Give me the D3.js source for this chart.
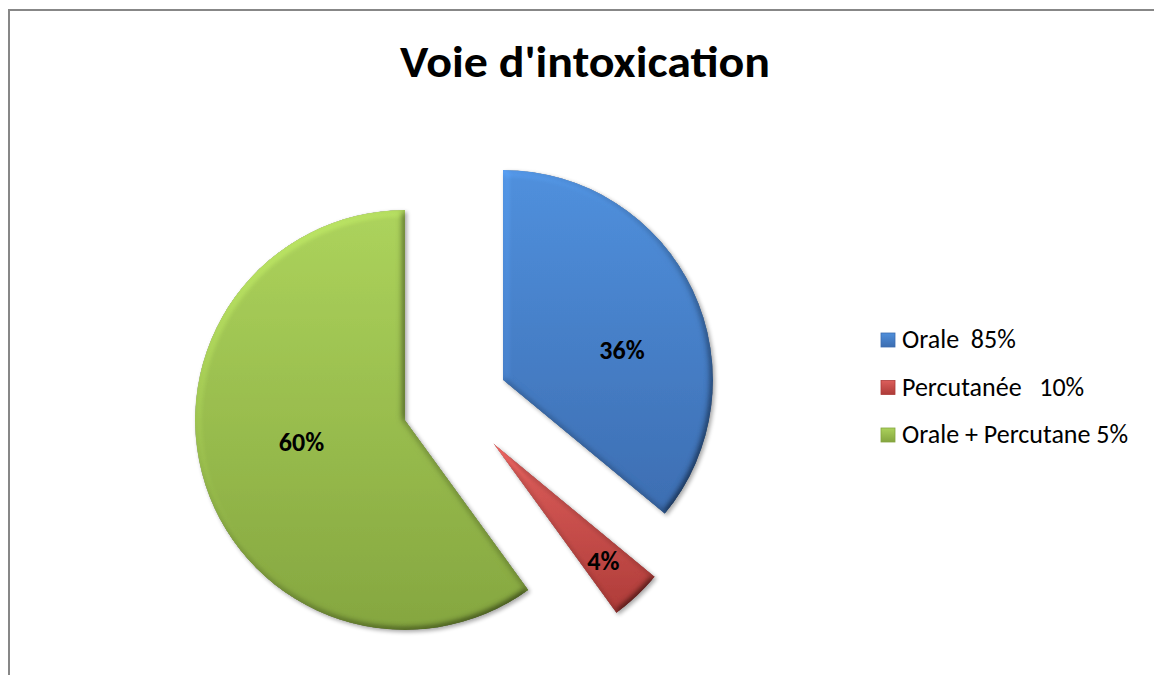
<!DOCTYPE html>
<html>
<head>
<meta charset="utf-8">
<script src="https://cdn.jsdelivr.net/npm/d3@7"></script>
<style>
  html, body { margin: 0; padding: 0; background: #fff; }
  svg { display: block; }
  text { font-family: Carlito, Calibri, Lato, "Liberation Sans", sans-serif; }
</style>
</head>
<body>
<svg id="chart" width="1154" height="675"></svg>
<script>
// Route of intoxication: share of cases per route
const categories = ["Orale  85%", "Percutanée   10%", "Orale + Percutane 5%"];
const shares = [36, 4, 60];
const title = "Voie d'intoxication";

// Slice colours (light top, dark bottom)
const colorsLight = ["#4f8fdb", "#dc5e5b", "#abd15b"];
const colorsDark  = ["#3c6db0", "#ad3b38", "#84a53f"];

// Layout
const W = 1154, H = 675;
const pieCenter = [430, 420];
const radius = 210;
// each slice is pulled away from the pie centre by its own offset
const sliceOffset = [[73, -40], [63, 23], [-25, 0]];
// value label placement: fraction of the radius, angle shift (deg) from the slice middle
const labelPlacement = [[0.584, 11.2], [0.768, 0], [0.504, 6]];

const svg = d3.select("#chart");
const defs = svg.append("defs");

// bevel + soft shadow used on every slice
const f = defs.append("filter").attr("id", "bevel")
  .attr("x", "-10%").attr("y", "-10%").attr("width", "120%").attr("height", "120%");
f.append("feGaussianBlur").attr("in", "SourceAlpha").attr("stdDeviation", 3.5).attr("result", "blur");
f.append("feDiffuseLighting").attr("in", "blur").attr("surfaceScale", 4)
  .attr("diffuseConstant", 0.62).attr("lighting-color", "#fff").attr("result", "diff")
  .append("feDistantLight").attr("azimuth", 225).attr("elevation", 55);
f.append("feComposite").attr("in", "SourceGraphic").attr("in2", "diff")
  .attr("operator", "arithmetic").attr("k1", 2).attr("k2", 0).attr("k3", 0).attr("k4", 0).attr("result", "lit");
f.append("feComposite").attr("in", "lit").attr("in2", "SourceAlpha").attr("operator", "in").attr("result", "litClip");
f.append("feGaussianBlur").attr("in", "SourceAlpha").attr("stdDeviation", 2).attr("result", "sblur");
f.append("feOffset").attr("in", "sblur").attr("dx", 1.5).attr("dy", 2).attr("result", "soff");
f.append("feComponentTransfer").attr("in", "soff").attr("result", "shadow")
  .append("feFuncA").attr("type", "linear").attr("slope", 0.35);
const m = f.append("feMerge");
m.append("feMergeNode").attr("in", "shadow");
m.append("feMergeNode").attr("in", "litClip");

shares.forEach((_, i) => {
  const g = defs.append("linearGradient").attr("id", "grad" + i)
    .attr("x1", 0).attr("y1", 0).attr("x2", 0).attr("y2", 1);
  g.append("stop").attr("offset", "0%").attr("stop-color", colorsLight[i]);
  g.append("stop").attr("offset", "100%").attr("stop-color", colorsDark[i]);
});

// chart frame
svg.append("rect")
  .attr("x", 9).attr("y", 10).attr("width", W + 20).attr("height", H + 20)
  .attr("fill", "none").attr("stroke", "#878787").attr("stroke-width", 2);

// title
svg.append("text")
  .attr("x", 585).attr("y", 77)
  .attr("text-anchor", "middle")
  .attr("font-size", 44).attr("font-weight", "bold").attr("fill", "#000")
  .attr("textLength", 370).attr("lengthAdjust", "spacingAndGlyphs")
  .text(title);

// pie
const pie = d3.pie().sort(null).value(d => d);
const arcs = pie(shares);
const arc = d3.arc().innerRadius(0).outerRadius(radius);

const slices = svg.append("g").attr("class", "slices");
arcs.forEach((a, i) => {
  const cx = pieCenter[0] + sliceOffset[i][0];
  const cy = pieCenter[1] + sliceOffset[i][1];
  slices.append("path")
    .attr("transform", `translate(${cx},${cy})`)
    .attr("d", arc(a))
    .attr("fill", `url(#grad${i})`)
    .attr("filter", "url(#bevel)");

  const mid = (a.startAngle + a.endAngle) / 2 + labelPlacement[i][1] * Math.PI / 180;
  const r = labelPlacement[i][0] * radius;
  svg.append("text")
    .attr("x", cx + r * Math.sin(mid))
    .attr("y", cy - r * Math.cos(mid))
    .attr("text-anchor", "middle").attr("dominant-baseline", "central")
    .attr("font-size", 26).attr("font-weight", "bold").attr("fill", "#000")
    .text(shares[i] + "%");
});

// legend
const legendY = d3.scalePoint().domain(d3.range(categories.length)).range([348, 443]);
const legend = svg.append("g").attr("class", "legend");
categories.forEach((c, i) => {
  const y = legendY(i);
  legend.append("rect")
    .attr("x", 881).attr("y", y - 15).attr("width", 14).attr("height", 14)
    .attr("fill", `url(#grad${i})`)
    .attr("stroke", colorsDark[i]).attr("stroke-width", 0.8);
  legend.append("text")
    .attr("x", 902).attr("y", y)
    .attr("font-size", 26).attr("fill", "#000")
    .style("white-space", "pre")
    .text(c);
});
</script>
</body>
</html>
